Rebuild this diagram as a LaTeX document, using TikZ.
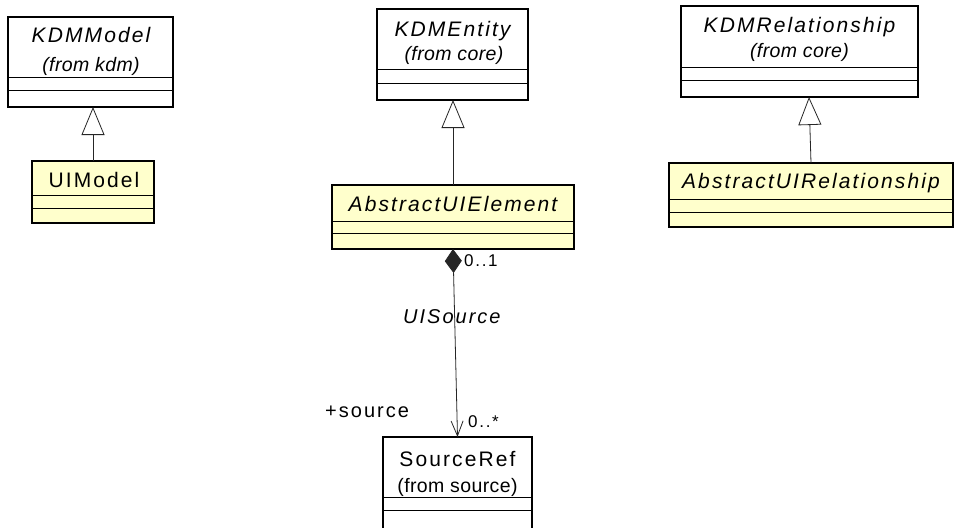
\documentclass[tikz,border=0pt]{standalone}
\usepackage{fontspec}
\setmainfont{Liberation Sans}
\newfontfamily\ttlfont[LetterSpace=10]{Liberation Sans}
\newfontfamily\subfont[LetterSpace=2]{Liberation Sans}
\newfontfamily\lblfont[LetterSpace=10]{Liberation Sans}
\usetikzlibrary{arrows.meta}
\definecolor{umlyellow}{RGB}{255,255,204}
\tikzset{
  classbox/.style={draw=black, line width=1.4pt, rectangle, inner sep=0pt, outer sep=0pt},
  divider/.style={draw=black, line width=0.9pt},
  ttl/.style={anchor=base, inner sep=0pt, font=\ttlfont\fontsize{21}{25}\selectfont},
  subttl/.style={anchor=base, inner sep=0pt, font=\subfont\fontsize{19.5}{23}\selectfont},
  rolelbl/.style={anchor=base west, inner sep=0pt, font=\lblfont\fontsize{20}{24}\selectfont},
  multlbl/.style={anchor=base west, inner sep=0pt, font=\lblfont\fontsize{17}{20}\selectfont},
  gen/.style={draw=black!85, line width=0.8pt, -{Triangle[open, length=28pt, width=23pt, line width=0.8pt]}},
  assoc/.style={draw=black!85, line width=0.8pt,
    {Diamond[length=24pt, width=17pt]}-{Straight Barb[length=15pt, width=12pt, line width=0.8pt]}},
}
\newcommand{\UMLclass}[8]{%
  \node[classbox, fill=#8, minimum width={#4-#2}, minimum height={#5-#3}] (#1) at ({(#2+#4)/2},{(#3+#5)/2}) {};
  \draw[divider] (#1.west |- 0,#6) -- (#1.east |- 0,#6);
  \draw[divider] (#1.west |- 0,#7) -- (#1.east |- 0,#7);
}
\begin{document}
\begin{tikzpicture}[x=1pt, y=-1pt]
  \clip (0,0) rectangle (955,527);
  \fill[white] (0,0) rectangle (955,527);

  % classes
  \UMLclass{KDMModel}{8}{17}{173}{107}{77}{90}{white}
  \UMLclass{UIModel}{32}{161}{154}{223}{195}{208}{umlyellow}
  \UMLclass{KDMEntity}{377}{9}{528}{100}{69}{83}{white}
  \UMLclass{AbsEl}{332}{185}{574}{249}{221}{233}{umlyellow}
  \UMLclass{KDMRel}{681}{6}{918}{97}{67}{80}{white}
  \UMLclass{AbsRel}{669}{163}{953}{227}{199}{212}{umlyellow}
  \UMLclass{SourceRef}{383}{437}{532}{560}{497}{510}{white}

  % class texts
  \node[ttl] (KDMModelT) at (91,43) {\itshape KDMModel};
  \node[subttl] (KDMModelS) at (91,71) {\itshape (from kdm)};
  \node[ttl] (UIModelT) at (94,187) {UIModel};
  \node[ttl] (KDMEntityT) at (452.5,37) {\itshape KDMEntity};
  \node[subttl] (KDMEntityS) at (454,60) {\itshape (from core)};
  \node[ttl] (AbsElT) at (453,211) {\itshape AbstractUIElement};
  \node[ttl] (KDMRelT) at (799.5,33) {\itshape KDMRelationship};
  \node[subttl] (KDMRelS) at (799.5,57) {\itshape (from core)};
  \node[ttl] (AbsRelT) at (811,188) {\itshape AbstractUIRelationship};
  \node[ttl] (SourceRefT) at (457.5,466) {SourceRef};
  \node[subttl] (SourceRefS) at (457.5,492) {(from source)};

  % generalizations
  \draw[gen] (UIModel.north) -- (UIModel.north |- KDMModel.south);
  \draw[gen] (AbsEl.north) -- (AbsEl.north |- KDMEntity.south);
  \coordinate (relhit) at ([xshift=-2pt]AbsRel.north |- KDMRel.south);
  \draw[gen] (AbsRel.north) -- (relhit);

  % composition
  \draw[assoc] (AbsEl.south) -- (SourceRef.north);
  \node[multlbl] (m1) at (464,266) {0..1};
  \node[rolelbl] (assocname) at (403,323) {\itshape UISource};
  \node[rolelbl] (role) at (325,417) {+source};
  \node[multlbl] (m2) at (468,427) {0..*};
\end{tikzpicture}
\end{document}
